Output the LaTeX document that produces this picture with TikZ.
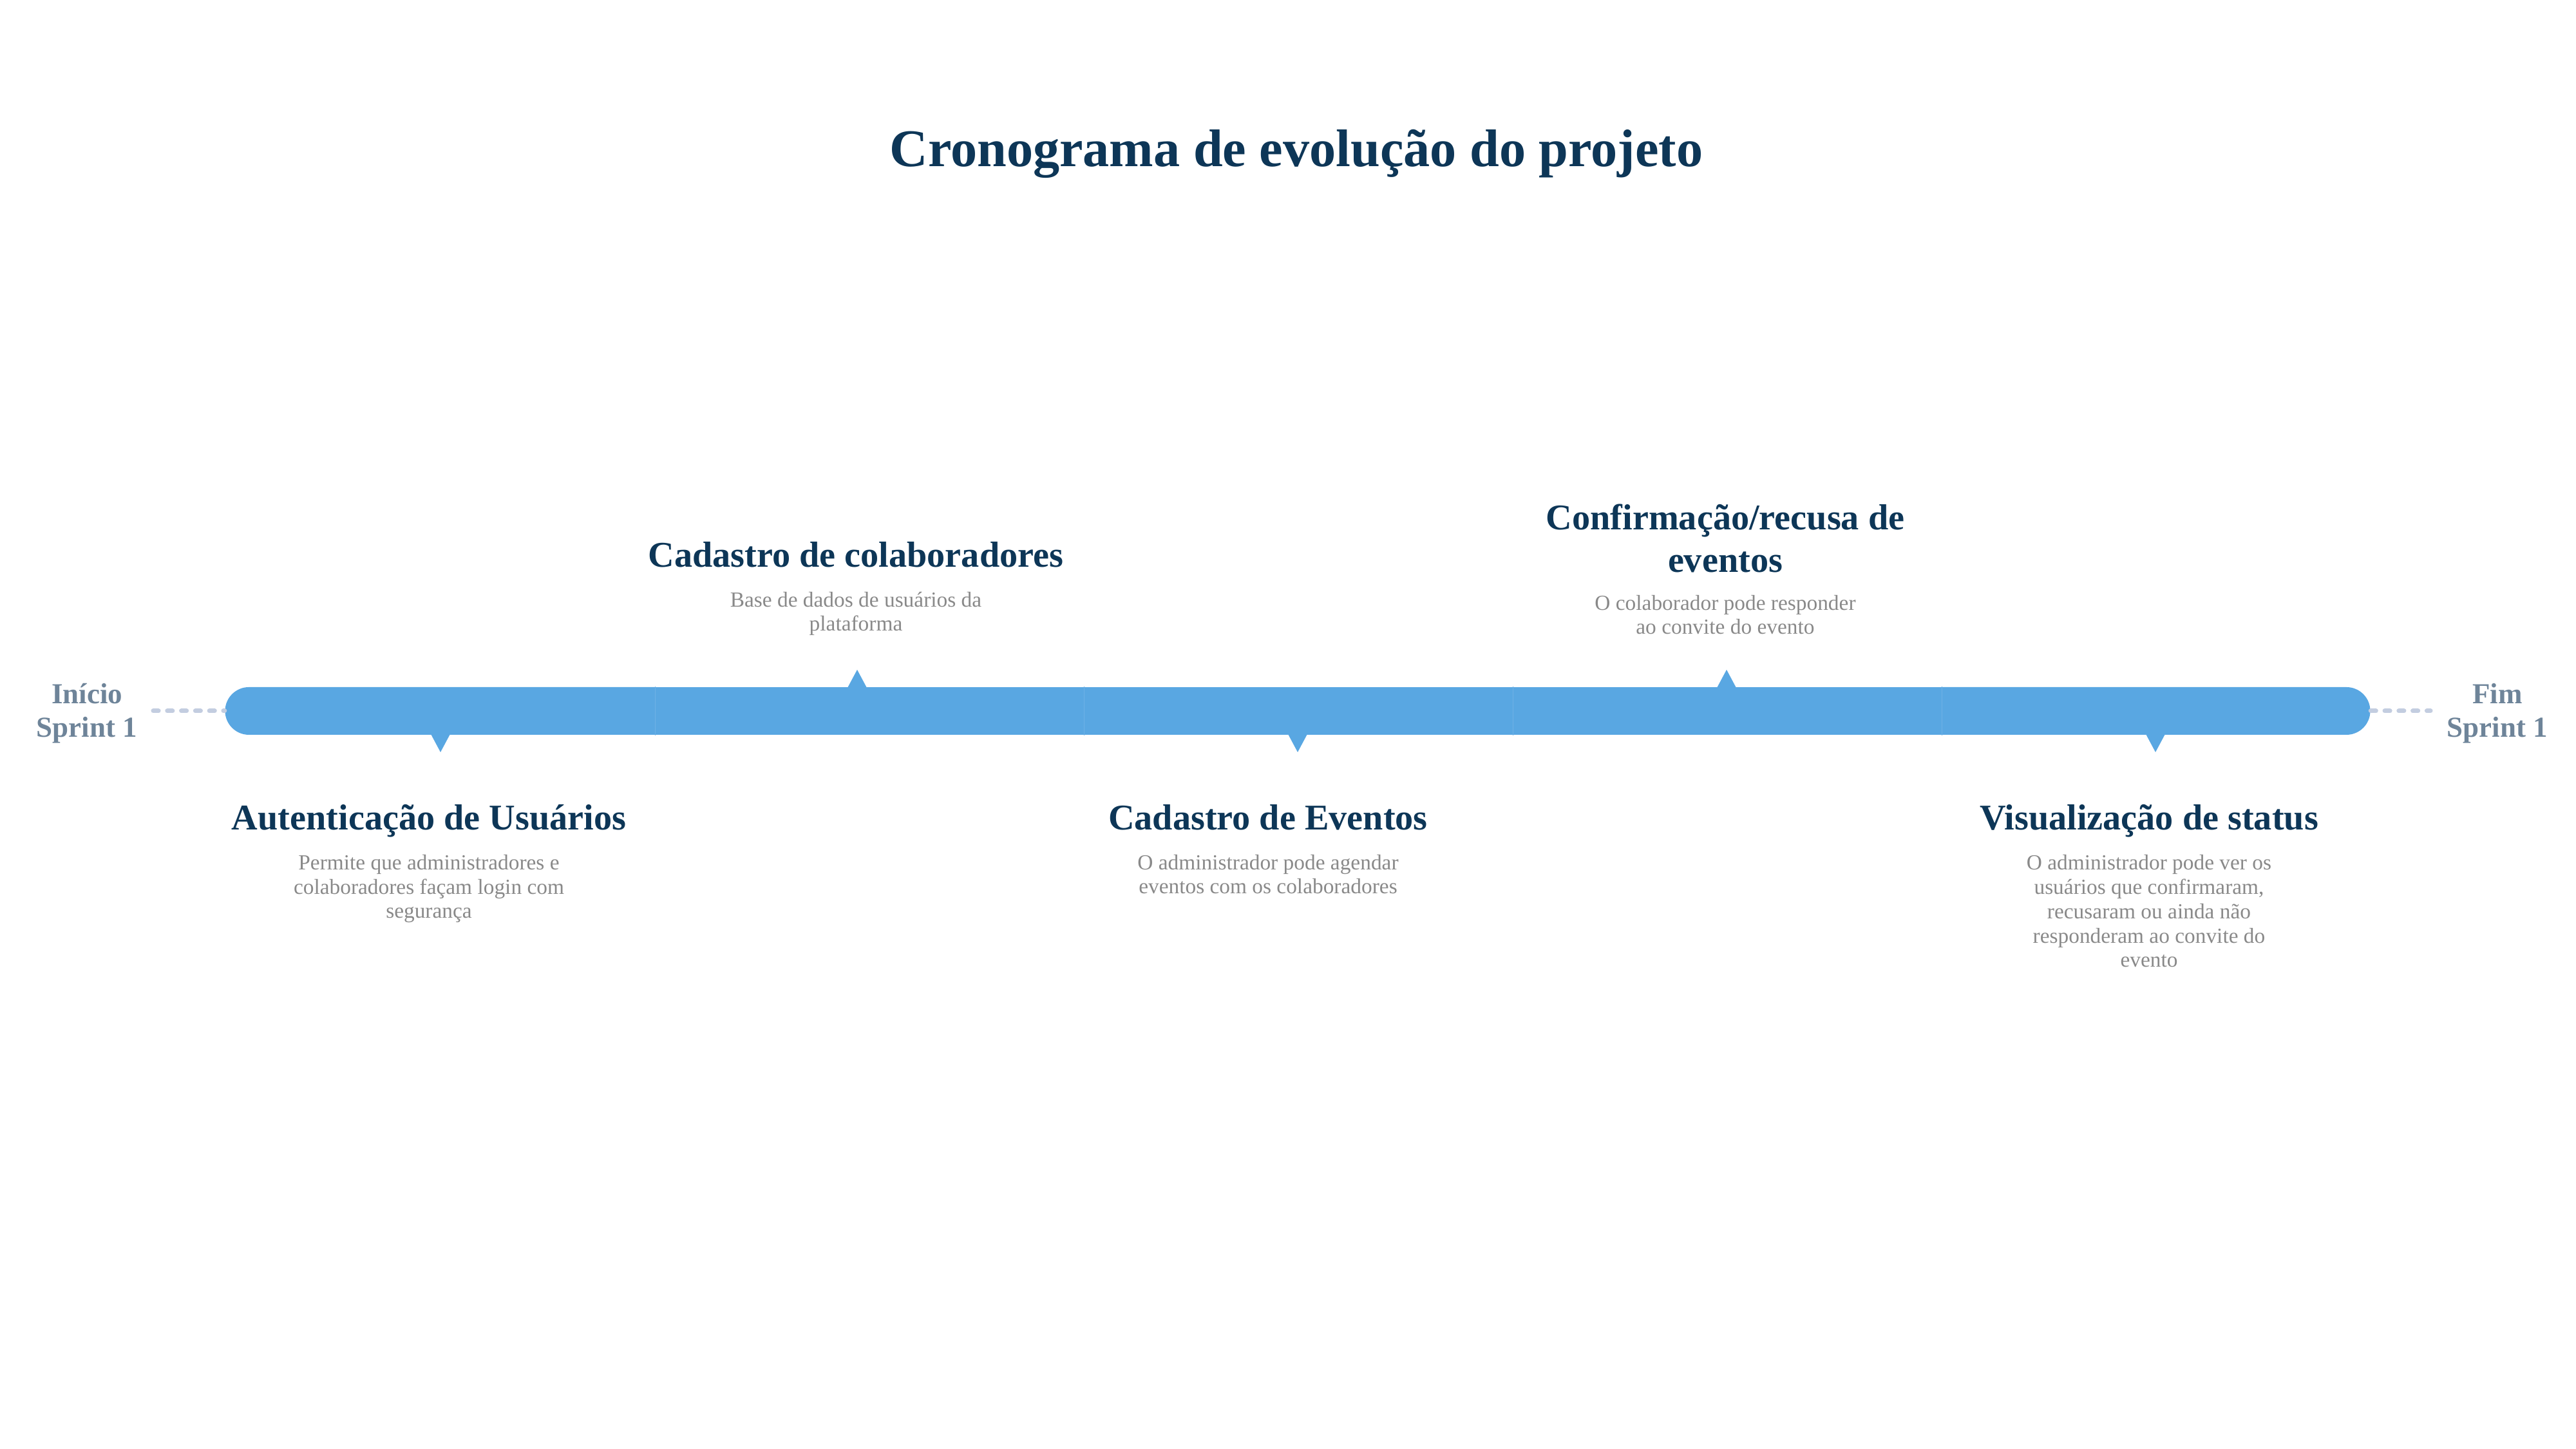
\documentclass[tikz,border=0pt]{standalone}
\usepackage{fontspec}
\setmainfont{Liberation Serif}
\usetikzlibrary{shapes.misc}
\definecolor{navy}{RGB}{13,54,87}
\definecolor{greytext}{RGB}{137,137,137}
\definecolor{sprintgrey}{RGB}{110,132,153}
\definecolor{barblue}{RGB}{89,167,226}
\definecolor{dashblue}{RGB}{195,205,224}
\begin{document}
\begin{tikzpicture}[
	segment/.style={ fill=barblue, inner sep=0pt, minimum width=6.67cm, minimum height=0.74cm },
	segleft/.style={ segment, rounded rectangle, rounded rectangle east arc=none },
	segright/.style={ segment, rounded rectangle, rounded rectangle west arc=none },
	heading/.style={ navy, font=\fontsize{16}{18.8}\selectfont\bfseries, align=center, anchor=base, inner sep=0pt },
	desc/.style={ greytext, font=\fontsize{9.5}{10.8}\selectfont, align=center, anchor=base, inner sep=0pt },
	sprint/.style={ sprintgrey, font=\fontsize{12.8}{15}\selectfont\bfseries, align=center, anchor=base, inner sep=0pt },
	dashline/.style={ dashblue, line width=2pt, line cap=round, dash pattern=on 2.3pt off 3.9pt },
	marker/.style={ fill=barblue }
]
\useasboundingbox (0,0) rectangle (40,22.5);

\node at (20.13,19.91) (title) [heading, font=\fontsize{23.4}{28}\selectfont\bfseries] {Cronograma de evolução do projeto};

\node at (6.83,11.46) (seg1) [segleft] {};
\node at (13.49,11.46) (seg2) [segment] {};
\node at (20.15,11.46) (seg3) [segment] {};
\node at (26.81,11.46) (seg4) [segment] {};
\node at (33.47,11.46) (seg5) [segright] {};
\foreach \p in {seg1,seg2,seg3,seg4} \draw[barblue!88!white, line width=0.3pt] (\p.north east) to (\p.south east);

\coordinate (tip1) at (6.84,10.82);
\coordinate (tip2) at (13.31,12.10);
\coordinate (tip3) at (20.15,10.82);
\coordinate (tip4) at (26.81,12.10);
\coordinate (tip5) at (33.47,10.82);
\foreach \p in {tip1,tip3,tip5} \fill[marker] (\p) -- ++(-0.155,0.29) -- ++(0.31,0) -- cycle;
\foreach \p in {tip2,tip4} \fill[marker] (\p) -- ++(-0.155,-0.29) -- ++(0.31,0) -- cycle;

\node at (1.35,11.05) (start) [sprint] {Início\\Sprint 1};
\node at (38.78,11.05) (finish) [sprint] {Fim\\Sprint 1};
\coordinate (startdash) at (2.38,11.46);
\coordinate (enddash) at (37.74,11.46);
\draw[dashline] (startdash) to (seg1.west);
\draw[dashline] (seg5.east) to (enddash);

\node at (6.66,9.61) (auth) [heading] {Autenticação de Usuários};
\node at (6.66,8.24) (authtext) [desc] {Permite que administradores e\\colaboradores façam login com\\segurança};

\node at (13.29,13.69) (colab) [heading] {Cadastro de colaboradores};
\node at (13.29,12.70) (colabtext) [desc] {Base de dados de usuários da\\plataforma};

\node at (19.69,9.61) (events) [heading] {Cadastro de Eventos};
\node at (19.69,8.62) (eventstext) [desc] {O administrador pode agendar\\eventos com os colaboradores};

\node at (26.79,13.61) (confirm) [heading] {Confirmação/recusa de\\eventos};
\node at (26.79,12.65) (confirmtext) [desc] {O colaborador pode responder\\ao convite do evento};

\node at (33.37,9.61) (status) [heading] {Visualização de status};
\node at (33.37,7.48) (statustext) [desc] {O administrador pode ver os\\usuários que confirmaram,\\recusaram ou ainda não\\responderam ao convite do\\evento};

\end{tikzpicture}
\end{document}
